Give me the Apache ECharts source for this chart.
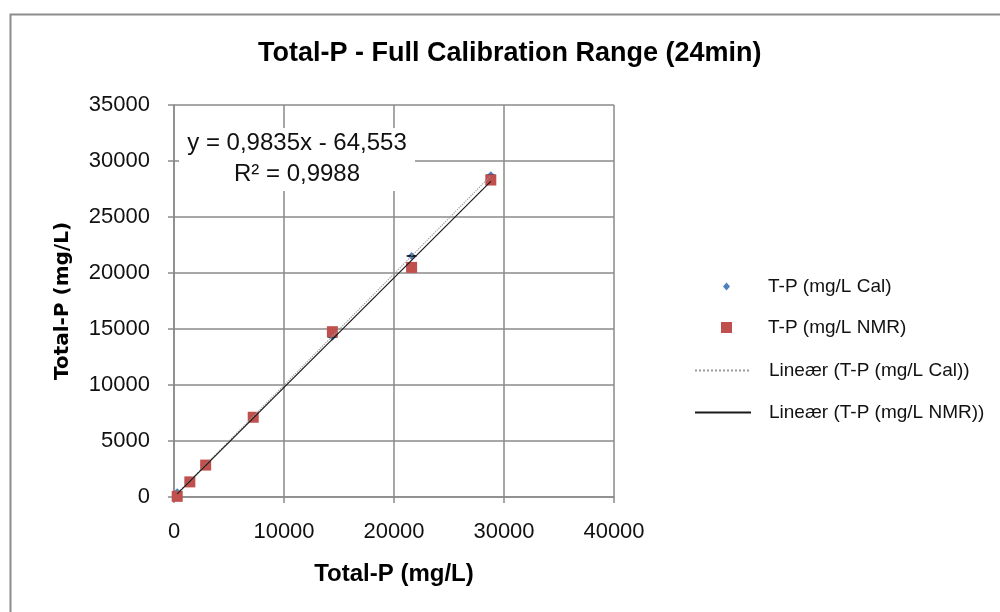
<!DOCTYPE html>
<html>
<head>
<meta charset="utf-8">
<script src="https://cdn.jsdelivr.net/npm/echarts@6/dist/echarts.min.js"></script>
<style>
html,body{margin:0;padding:0;background:#fff;}
#chart{width:1000px;height:612px;}
</style>
</head>
<body>
<div id="chart"></div>
<script>
// ---- data ----
const titleText = 'Total-P - Full Calibration Range (24min)';
const xName = 'Total-P (mg/L)';
const yName = 'Total-P (mg/L)';
const seriesNames = ['T-P (mg/L Cal)', 'T-P (mg/L NMR)', 'Lineær (T-P (mg/L Cal))', 'Lineær (T-P (mg/L NMR))'];
const xVals = [290, 1440, 2880, 7200, 14400, 21600, 28800];
const calVals = [420, 1430, 2860, 7150, 14300, 21520, 28720];
const nmrVals = [60, 1350, 2850, 7120, 14760, 20500, 28300];
const errX = [450, 450, 450, 450, 450, 450, 450];
const eqLines = ['y = 0,9835x - 64,553', 'R² = 0,9988'];
const xAxisRange = [0, 40000, 10000];
const yAxisRange = [0, 35000, 5000];

function fit(xs, ys) {
  const n = xs.length;
  let sx = 0, sy = 0, sxx = 0, sxy = 0;
  for (let i = 0; i < n; i++) { sx += xs[i]; sy += ys[i]; sxx += xs[i]*xs[i]; sxy += xs[i]*ys[i]; }
  const a = (n*sxy - sx*sy) / (n*sxx - sx*sx);
  const b = (sy - a*sx) / n;
  const x0 = Math.min.apply(null, xs), x1 = Math.max.apply(null, xs);
  return [[x0, a*x0 + b], [x1, a*x1 + b]];
}
const pairs = (xs, ys) => xs.map((x, i) => [x, ys[i]]);
const plain = v => String(v);

const FONT = 'Liberation Sans, Arial, sans-serif';
const chart = echarts.init(document.getElementById('chart'));
chart.setOption({
  backgroundColor: '#fff',
  animation: false,
  title: {
    text: titleText, left: 258, top: 40, padding: 0,
    textStyle: { fontFamily: FONT, fontSize: 27, fontWeight: 'bold', color: '#000' }
  },
  grid: { left: 174, right: 386, top: 105, bottom: 115, containLabel: false },
  xAxis: {
    type: 'value', min: xAxisRange[0], max: xAxisRange[1], interval: xAxisRange[2],
    name: xName, nameLocation: 'middle', nameGap: 65,
    nameTextStyle: { fontFamily: FONT, fontSize: 24, fontWeight: 'bold', color: '#000' },
    axisLine: { show: true, lineStyle: { color: '#8a8a8a', width: 1.5 } },
    axisTick: { show: true, length: 6, lineStyle: { color: '#8a8a8a', width: 1.5 } },
    axisLabel: { margin: 24, fontFamily: FONT, fontSize: 22, color: '#111', formatter: plain },
    splitLine: { show: true, lineStyle: { color: '#8a8a8a', width: 1.5 } }
  },
  yAxis: {
    type: 'value', min: yAxisRange[0], max: yAxisRange[1], interval: yAxisRange[2],
    name: yName, nameLocation: 'middle', nameGap: 101, nameRotate: 90,
    nameTextStyle: { fontFamily: 'DejaVu Sans, Verdana, sans-serif', fontSize: 20, fontWeight: 'bold', color: '#000' },
    axisLine: { show: true, lineStyle: { color: '#8a8a8a', width: 1.5 } },
    axisTick: { show: true, length: 6, lineStyle: { color: '#8a8a8a', width: 1.5 } },
    axisLabel: { margin: 24, fontFamily: FONT, fontSize: 22, color: '#111', formatter: plain },
    splitLine: { show: true, lineStyle: { color: '#8a8a8a', width: 1.5 } }
  },
  legend: [
    { data: [{ name: seriesNames[0], icon: 'diamond' }], left: 723, top: 277, padding: 0,
      itemWidth: 7, itemHeight: 8,
      textStyle: { fontFamily: FONT, fontSize: 19, color: '#111', padding: [0, 0, 0, 33] } },
    { data: [{ name: seriesNames[1], icon: 'rect' }], left: 721, top: 318, padding: 0,
      itemWidth: 11, itemHeight: 11,
      textStyle: { fontFamily: FONT, fontSize: 19, color: '#111', padding: [0, 0, 0, 31] } },
    { data: [seriesNames[2], seriesNames[3]], left: 694, top: 361, padding: 0, orient: 'vertical',
      itemWidth: 56, itemHeight: 14, itemGap: 23,
      itemStyle: { opacity: 0 },
      textStyle: { fontFamily: FONT, fontSize: 19, color: '#111', padding: [0, 0, 0, 13] } }
  ],
  series: [
    {
      name: seriesNames[0], type: 'scatter', symbol: 'diamond', symbolSize: 8,
      itemStyle: { color: '#4F81BD', opacity: 1 }, z: 3,
      data: pairs(xVals, calVals)
    },
    {
      name: 'errbars', type: 'custom', z: 4, silent: true,
      data: xVals.map((x, i) => [x, calVals[i], errX[i]]),
      renderItem: function (params, api) {
        const p0 = api.coord([api.value(0) - api.value(2), api.value(1)]);
        const p1 = api.coord([api.value(0) + api.value(2), api.value(1)]);
        return { type: 'line', shape: { x1: p0[0], y1: p0[1], x2: p1[0], y2: p1[1] },
          style: { stroke: '#000', lineWidth: 1.5 } };
      }
    },
    {
      name: seriesNames[1], type: 'scatter', symbol: 'rect', symbolSize: 11,
      itemStyle: { color: '#C0504D', opacity: 1 }, z: 5,
      data: pairs(xVals, nmrVals)
    },
    {
      name: seriesNames[2], type: 'line', symbol: 'none', showSymbol: false, z: 6,
      itemStyle: { color: '#9a9a9a' },
      lineStyle: { color: '#9a9a9a', width: 1.2, type: 'dotted' },
      data: fit(xVals, calVals)
    },
    {
      name: seriesNames[3], type: 'line', symbol: 'none', showSymbol: false, z: 7,
      itemStyle: { color: '#1a1a1a' },
      lineStyle: { color: '#1a1a1a', width: 1.2, type: 'solid' },
      data: fit(xVals, nmrVals)
    }
  ],
  graphic: [
    { type: 'rect', left: 8, top: 12, shape: { width: 1010, height: 620 },
      style: { fill: 'none', stroke: '#8c8c8c', lineWidth: 2 }, z: 0, silent: true },
    { type: 'rect', left: 179, top: 128, shape: { width: 236, height: 63 },
      style: { fill: '#fff' }, z: 10, silent: true },
    { type: 'text', x: 297, y: 143, z: 11,
      style: { text: eqLines[0], fontFamily: FONT, fontSize: 24, fill: '#111', align: 'center', verticalAlign: 'middle' } },
    { type: 'text', x: 297, y: 174, z: 11,
      style: { text: eqLines[1], fontFamily: FONT, fontSize: 24, fill: '#111', align: 'center', verticalAlign: 'middle' } }
  ]
});
</script>
</body>
</html>
